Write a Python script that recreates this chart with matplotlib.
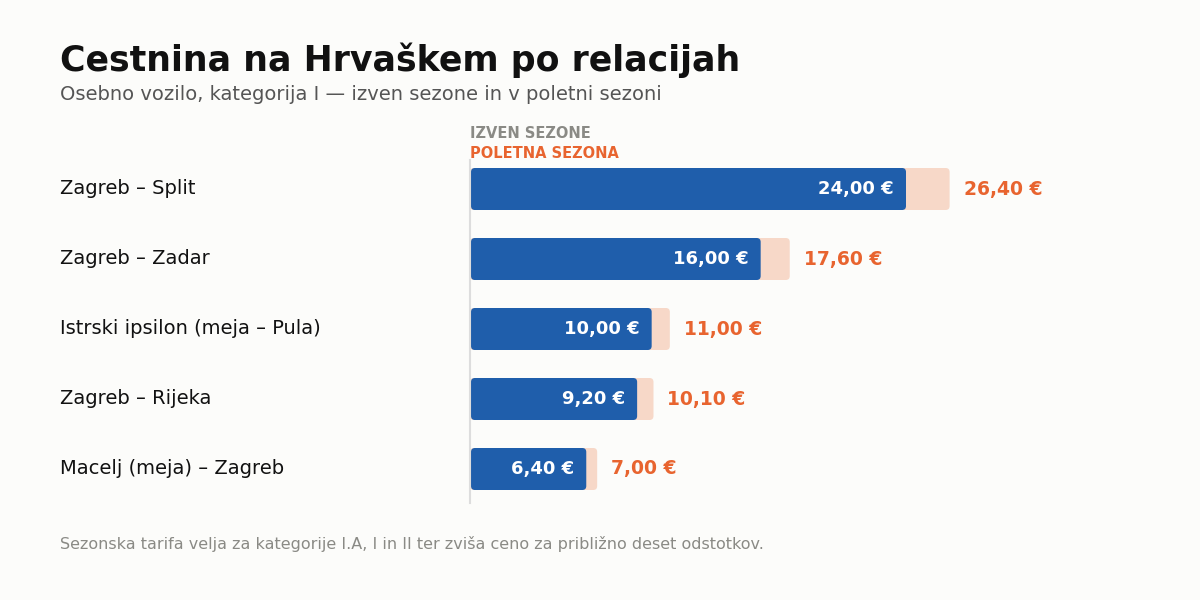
import matplotlib
matplotlib.use("Agg")
import matplotlib.pyplot as plt
from matplotlib.patches import FancyBboxPatch

routes = ["Zagreb – Split", "Zagreb – Zadar", "Istrski ipsilon (meja – Pula)",
          "Zagreb – Rijeka", "Macelj (meja) – Zagreb"]
off_season = [24.00, 16.00, 10.00, 9.20, 6.40]
summer = [26.40, 17.60, 11.00, 10.10, 7.00]

title = "Cestnina na Hrvaškem po relacijah"
subtitle = "Osebno vozilo, kategorija I — izven sezone in v poletni sezoni"
footer = "Sezonska tarifa velja za kategorije I.A, I in II ter zviša ceno za približno deset odstotkov."
legend_off = "IZVEN SEZONE"
legend_sum = "POLETNA SEZONA"

BG = "#fcfcfa"
BLUE = "#1f5eab"
ORANGE = "#e8642f"
PEACH = "#f7d8c8"

def fmt(v):
    return f"{v:.2f}".replace(".", ",") + " €"

W, H = 1200, 600
fig = plt.figure(figsize=(12, 6), dpi=100, facecolor=BG)

# axes in pixel geometry
ax_left, ax_right, ax_top, ax_bot = 470, 1150, 160, 503
ax = fig.add_axes([ax_left / W, 1 - ax_bot / H, (ax_right - ax_left) / W, (ax_bot - ax_top) / H])
ax.set_facecolor("none")
px_per_unit = (906 - 470) / 24.0
xmax = (ax_right - ax_left) / px_per_unit
row_px = 70.0
ax.set_xlim(0, xmax)
ax.set_ylim(len(routes) - 1 + 34 / row_px, -29 / row_px)
for s in ["top", "right", "bottom"]:
    ax.spines[s].set_visible(False)
ax.spines["left"].set_color("#dddddd")
ax.spines["left"].set_linewidth(1.5)
ax.set_xticks([])
ax.set_yticks([])

bar_h = 42 / row_px
r_px = 4.0
rx = r_px / px_per_unit
aspect = px_per_unit / row_px
dy = 2 / row_px  # text nudge up

def rbar(x0, width, y, color, z):
    p = FancyBboxPatch((x0, y - bar_h / 2), width, bar_h,
                       boxstyle=f"round,pad=0,rounding_size={rx}",
                       mutation_aspect=aspect, facecolor=color, edgecolor="none",
                       zorder=z)
    ax.add_patch(p)

off_x = 1 / px_per_unit
for i, (a, b) in enumerate(zip(off_season, summer)):
    rbar(0, b, i, PEACH, 1)
    rbar(off_x, a - off_x, i, BLUE, 2)
    ax.text(a - 12 / px_per_unit, i - dy, fmt(a), ha="right", va="center_baseline",
            color="white", fontsize=13, fontweight="bold", zorder=3)
    ax.text(b + 14 / px_per_unit, i - dy, fmt(b), ha="left", va="center_baseline",
            color=ORANGE, fontsize=13.5, fontweight="bold", zorder=3)
    fig.text(60 / W, 1 - (187 + 70 * i) / H, routes[i], ha="left", va="center_baseline",
             color="#111111", fontsize=14)

fig.text(60 / W, 1 - 57 / H, title, ha="left", va="center_baseline",
         fontsize=25, fontweight="bold", color="#111111")
fig.text(60 / W, 1 - 92 / H, subtitle, ha="left", va="center_baseline",
         fontsize=14, color="#555555")
fig.text(470 / W, 1 - 132 / H, legend_off, ha="left", va="center_baseline",
         fontsize=10.5, fontweight="bold", color="#8a8a85")
fig.text(470 / W, 1 - 152 / H, legend_sum, ha="left", va="center_baseline",
         fontsize=10.5, fontweight="bold", color=ORANGE)
fig.text(60 / W, 1 - 542 / H, footer, ha="left", va="center_baseline",
         fontsize=11.5, color="#8a8a85")

fig.savefig("out.png", dpi=100, facecolor=BG)
